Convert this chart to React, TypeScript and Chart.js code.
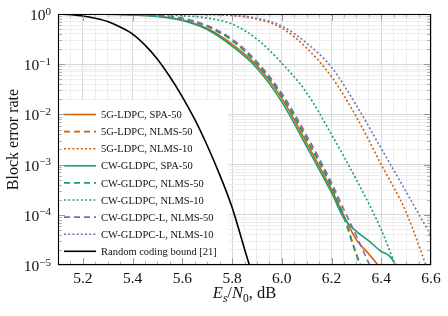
import React, { useEffect, useRef } from "react";
import { Chart, registerables } from "chart.js";

Chart.register(...registerables);

const SERIF = '"Liberation Serif", "Times New Roman", Times, serif';
const ORANGE = "#d95f02";
const GREEN = "#1b9e77";
const PURPLE = "#7570b3";
const BLACK = "#000000";

// E_s/N_0 (dB) and block error rate
const ldpcSpa50X = [5.1, 5.3, 5.4, 5.5, 5.6, 5.7, 5.8, 5.9, 6.0, 6.1, 6.2, 6.25, 6.3, 6.35, 6.4];
const ldpcSpa50Y = [1, 0.991, 0.959, 0.902, 0.759, 0.513, 0.251, 0.0933, 0.0209, 2.69e-3, 3.16e-4, 9.55e-5, 3.16e-5, 1.66e-5, 8.3e-6];

const ldpcNlms50X = [5.1, 5.3, 5.4, 5.5, 5.6, 5.7, 5.8, 5.9, 6.0, 6.1, 6.2, 6.25, 6.3, 6.33];
const ldpcNlms50Y = [1, 0.993, 0.973, 0.923, 0.813, 0.575, 0.302, 0.105, 0.024, 3.31e-3, 3.8e-4, 9.55e-5, 1.66e-5, 7.1e-6];

const ldpcNlms10X = [5.1, 5.6, 5.7, 5.8, 5.9, 6.0, 6.1, 6.2, 6.3, 6.4, 6.5, 6.6];
const ldpcNlms10Y = [1, 0.989, 0.977, 0.933, 0.794, 0.525, 0.209, 0.0562, 8.91e-3, 1.0e-3, 1.12e-4, 5.2e-6];

const cwSpa50X = [5.1, 5.3, 5.4, 5.5, 5.6, 5.7, 5.8, 5.9, 6.0, 6.1, 6.2, 6.25, 6.3, 6.35, 6.4, 6.43, 6.45, 6.465];
const cwSpa50Y = [1, 0.989, 0.955, 0.891, 0.741, 0.49, 0.229, 0.0832, 0.0178, 2.29e-3, 2.75e-4, 8.51e-5, 4.68e-5, 3.02e-5, 1.86e-5, 1.55e-5, 1.17e-5, 7.9e-6];

const cwNlms50X = [5.1, 5.3, 5.4, 5.5, 5.6, 5.7, 5.8, 5.9, 6.0, 6.1, 6.2, 6.25, 6.3, 6.33];
const cwNlms50Y = [1, 0.993, 0.973, 0.92, 0.804, 0.562, 0.295, 0.102, 0.0234, 3.16e-3, 3.55e-4, 8.7e-5, 1.58e-5, 6.3e-6];

const cwNlms10X = [5.1, 5.4, 5.5, 5.6, 5.7, 5.8, 5.9, 6.0, 6.1, 6.2, 6.3, 6.4, 6.46];
const cwNlms10Y = [1, 0.989, 0.977, 0.923, 0.832, 0.631, 0.316, 0.105, 0.0269, 3.98e-3, 5.01e-4, 5.01e-5, 8.9e-6];

const cwlNlms50X = [5.1, 5.3, 5.4, 5.5, 5.6, 5.7, 5.8, 5.9, 6.0, 6.1, 6.2, 6.25, 6.3, 6.35, 6.37];
const cwlNlms50Y = [1, 0.993, 0.975, 0.927, 0.822, 0.589, 0.316, 0.112, 0.0263, 3.8e-3, 4.37e-4, 1.26e-4, 3.8e-5, 1.07e-5, 6.3e-6];

const cwlNlms10X = [5.1, 5.6, 5.7, 5.8, 5.9, 6.0, 6.1, 6.2, 6.3, 6.4, 6.5, 6.6];
const cwlNlms10Y = [1, 0.991, 0.982, 0.944, 0.822, 0.575, 0.263, 0.0871, 0.0151, 2.09e-3, 2.88e-4, 3.8e-5];

const boundX = [5.1, 5.15, 5.2, 5.25, 5.3, 5.35, 5.4, 5.45, 5.5, 5.55, 5.6, 5.65, 5.7, 5.75, 5.8, 5.85, 5.9];
const boundY = [1, 0.966, 0.912, 0.822, 0.708, 0.55, 0.398, 0.24, 0.126, 0.0562, 0.0224, 7.94e-3, 2.4e-3, 6.31e-4, 1.41e-4, 2.09e-5, 3.16e-6];

const xTickLabels = ["5.2", "5.4", "5.6", "5.8", "6.0", "6.2", "6.4", "6.6"];
const yTickExponents = [0, -1, -2, -3, -4, -5];
const xMin = 5.1;
const xMax = 6.6;
const yMin = 1e-5;
const yMax = 1;

const DASHED = [6, 4];
const DOTTED = [2, 2.2];

const series = [
  { label: "5G-LDPC, SPA-50", x: ldpcSpa50X, y: ldpcSpa50Y, color: ORANGE, dash: [] as number[] },
  { label: "5G-LDPC, NLMS-50", x: ldpcNlms50X, y: ldpcNlms50Y, color: ORANGE, dash: DASHED },
  { label: "5G-LDPC, NLMS-10", x: ldpcNlms10X, y: ldpcNlms10Y, color: ORANGE, dash: DOTTED },
  { label: "CW-GLDPC, SPA-50", x: cwSpa50X, y: cwSpa50Y, color: GREEN, dash: [] as number[] },
  { label: "CW-GLDPC, NLMS-50", x: cwNlms50X, y: cwNlms50Y, color: GREEN, dash: DASHED },
  { label: "CW-GLDPC, NLMS-10", x: cwNlms10X, y: cwNlms10Y, color: GREEN, dash: DOTTED },
  { label: "CW-GLDPC-L, NLMS-50", x: cwlNlms50X, y: cwlNlms50Y, color: PURPLE, dash: DASHED },
  { label: "CW-GLDPC-L, NLMS-10", x: cwlNlms10X, y: cwlNlms10Y, color: PURPLE, dash: DOTTED },
  { label: "Random coding bound [21]", x: boundX, y: boundY, color: BLACK, dash: [] as number[] },
];

const LINE_W = 1.6;
const GRID_MAJOR = "#d6d6d6";
const GRID_MINOR = "#ededed";
const TICK_MAJOR = "#9a9a9a";
const TICK_MINOR = "#b5b5b5";

const isXMajor = (v: number) => Math.abs(v / 0.2 - Math.round(v / 0.2)) < 1e-6;
const isYMajor = (v: number) => Math.abs(Math.log10(v) - Math.round(Math.log10(v))) < 1e-6;

const xTickValues = () => {
  const t: number[] = [];
  for (let i = 0; i <= 30; i++) t.push(Math.round((xMin + i * 0.05) * 100) / 100);
  return t;
};
const yTickValues = () => {
  const t: number[] = [];
  for (let d = -5; d <= 0; d++) {
    for (let m = 1; m <= 9; m++) {
      const v = m * Math.pow(10, d);
      if (v <= 1 + 1e-12) t.push(v);
    }
  }
  return t;
};

const overlayPlugin = {
  id: "pgfOverlay",
  beforeDatasetsDraw(chart: any) {
    const { ctx, chartArea } = chart;
    ctx.save();
    ctx.fillStyle = "#ffffff";
    ctx.fillRect(chartArea.left, 100, 228 - chartArea.left, chartArea.bottom - 100);
    ctx.font = `10.5px ${SERIF}`;
    ctx.textBaseline = "alphabetic";
    ctx.textAlign = "left";
    series.forEach((s, i) => {
      const y = 114.5 + i * 17.1;
      ctx.beginPath();
      ctx.setLineDash(s.dash);
      ctx.strokeStyle = s.color;
      ctx.lineWidth = LINE_W;
      ctx.moveTo(64, y);
      ctx.lineTo(96, y);
      ctx.stroke();
      ctx.setLineDash([]);
      ctx.fillStyle = "#111";
      ctx.fillText(s.label, 101, y + 3.6);
    });
    ctx.restore();
  },
  afterDraw(chart: any) {
    const { ctx, chartArea } = chart;
    const xs = chart.scales.x;
    const ys = chart.scales.y;
    const { left, right, top, bottom } = chartArea;
    ctx.save();
    ctx.lineWidth = 1;
    xTickValues().forEach((v) => {
      if (v <= xMin + 1e-9 || v >= xMax - 1e-9) return;
      const px = Math.round(xs.getPixelForValue(v)) + 0.5;
      const major = isXMajor(v);
      const len = major ? 7 : 3.5;
      ctx.strokeStyle = major ? TICK_MAJOR : TICK_MINOR;
      ctx.beginPath();
      ctx.moveTo(px, bottom);
      ctx.lineTo(px, bottom - len);
      ctx.moveTo(px, top);
      ctx.lineTo(px, top + len);
      ctx.stroke();
    });
    yTickValues().forEach((v) => {
      if (v <= yMin * 1.0001 || v >= yMax * 0.9999) return;
      const py = Math.round(ys.getPixelForValue(v)) + 0.5;
      const major = isYMajor(v);
      const len = major ? 7 : 4;
      ctx.strokeStyle = major ? TICK_MAJOR : TICK_MINOR;
      ctx.beginPath();
      ctx.moveTo(left, py);
      ctx.lineTo(left + len, py);
      ctx.moveTo(right, py);
      ctx.lineTo(right - len, py);
      ctx.stroke();
    });
    ctx.strokeStyle = "#000";
    ctx.lineWidth = 1.1;
    ctx.strokeRect(Math.round(left) + 0.5, Math.round(top) + 0.5, Math.round(right - left) - 1, Math.round(bottom - top) - 1);

    ctx.fillStyle = "#111";
    ctx.font = `15.5px ${SERIF}`;
    ctx.textAlign = "center";
    ctx.textBaseline = "alphabetic";
    xTickLabels.forEach((lab) => {
      const px = xs.getPixelForValue(parseFloat(lab));
      ctx.fillText(lab, px, bottom + 18);
    });

    ctx.textAlign = "left";
    yTickExponents.forEach((e) => {
      const py = ys.getPixelForValue(Math.pow(10, e));
      const sup = e < 0 ? "\u2212" + Math.abs(e) : String(e);
      ctx.font = `11px ${SERIF}`;
      const ws = ctx.measureText(sup).width;
      ctx.font = `15.5px ${SERIF}`;
      const wb = ctx.measureText("10").width;
      const rightEdge = 51;
      ctx.fillText("10", rightEdge - ws - wb, py + 6);
      ctx.font = `11px ${SERIF}`;
      ctx.fillText(sup, rightEdge - ws, py + 0.5);
    });

    ctx.save();
    ctx.translate(18, (top + bottom) / 2);
    ctx.rotate(-Math.PI / 2);
    ctx.font = `16px ${SERIF}`;
    ctx.textAlign = "center";
    ctx.textBaseline = "alphabetic";
    ctx.fillText("Block error rate", 0, 0);
    ctx.restore();

    const parts = [
      { t: "E", f: `italic 16.5px ${SERIF}`, dy: 0 },
      { t: "s", f: `italic 11.5px ${SERIF}`, dy: 3.5 },
      { t: "/", f: `16.5px ${SERIF}`, dy: 0 },
      { t: "N", f: `italic 16.5px ${SERIF}`, dy: 0 },
      { t: "0", f: `11.5px ${SERIF}`, dy: 3.5 },
      { t: ", dB", f: `16.5px ${SERIF}`, dy: 0 },
    ];
    let total = 0;
    const widths = parts.map((p) => {
      ctx.font = p.f;
      const w = ctx.measureText(p.t).width;
      total += w;
      return w;
    });
    let cx = (left + right) / 2 - total / 2;
    ctx.textAlign = "left";
    parts.forEach((p, i) => {
      ctx.font = p.f;
      ctx.fillText(p.t, cx, 298 + p.dy);
      cx += widths[i];
    });
    ctx.restore();
  },
};

export default function App() {
  const ref = useRef<HTMLCanvasElement | null>(null);
  useEffect(() => {
    if (!ref.current) return;
    const chart = new Chart(ref.current, {
      type: "line",
      data: {
        datasets: series.map((s, i) => ({
          label: s.label,
          data: s.x.map((x, k) => ({ x, y: s.y[k] })),
          borderColor: s.color,
          backgroundColor: s.color,
          borderWidth: LINE_W,
          borderDash: s.dash,
          pointRadius: 0,
          fill: false,
          cubicInterpolationMode: "monotone",
          order: -i,
        })),
      },
      options: {
        responsive: false,
        animation: false,
        events: [],
        layout: { padding: { left: 58, top: 14, right: 17, bottom: 51 } },
        plugins: { legend: { display: false }, tooltip: { enabled: false }, title: { display: false } },
        scales: {
          x: {
            type: "linear",
            min: xMin,
            max: xMax,
            afterBuildTicks: (scale: any) => {
              scale.ticks = xTickValues().map((v) => ({ value: v, major: isXMajor(v) }));
            },
            ticks: { display: false },
            border: { display: false },
            grid: {
              drawTicks: false,
              color: (c: any) => (c.tick && isXMajor(c.tick.value) ? GRID_MAJOR : GRID_MINOR),
              lineWidth: 1,
            },
          },
          y: {
            type: "logarithmic",
            min: yMin,
            max: yMax,
            afterBuildTicks: (scale: any) => {
              scale.ticks = yTickValues().map((v) => ({ value: v, major: isYMajor(v) }));
            },
            ticks: { display: false },
            border: { display: false },
            grid: {
              drawTicks: false,
              color: (c: any) => (c.tick && isYMajor(c.tick.value) ? GRID_MAJOR : GRID_MINOR),
              lineWidth: 1,
            },
          },
        },
      },
      plugins: [overlayPlugin],
    } as any);
    return () => chart.destroy();
  }, []);
  return (
    <div style={{ position: "absolute", left: 0, top: 0, width: 448, height: 316, background: "#fff" }}>
      <canvas ref={ref} width={448} height={316} />
    </div>
  );
}
